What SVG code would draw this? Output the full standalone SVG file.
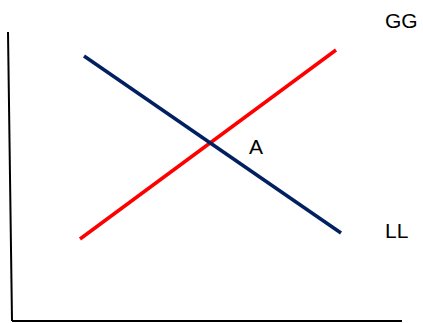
<svg xmlns="http://www.w3.org/2000/svg" width="423" height="323" viewBox="0 0 423 323">
<style>
.axis{stroke:#000;stroke-width:2;fill:none}
.lbl{font-family:"Liberation Sans",Arial,sans-serif;font-size:21px;fill:#000}
</style>
<rect width="423" height="323" fill="#fff"/>
<g id="connectors">
<line class="axis" x1="8" y1="32" x2="12" y2="321"/>
<line class="axis" x1="12" y1="321" x2="402" y2="321"/>
<line id="GG-line" x1="80" y1="239" x2="336" y2="50" stroke="#ff0000" stroke-width="3.5"/>
<line id="LL-line" x1="84" y1="56" x2="341" y2="233" stroke="#002060" stroke-width="3.5"/>
</g>
<g id="GG"><text class="lbl" x="385" y="28">GG</text></g>
<g id="A"><text class="lbl" x="249" y="154">A</text></g>
<g id="LL"><text class="lbl" x="385" y="238">LL</text></g>
</svg>
